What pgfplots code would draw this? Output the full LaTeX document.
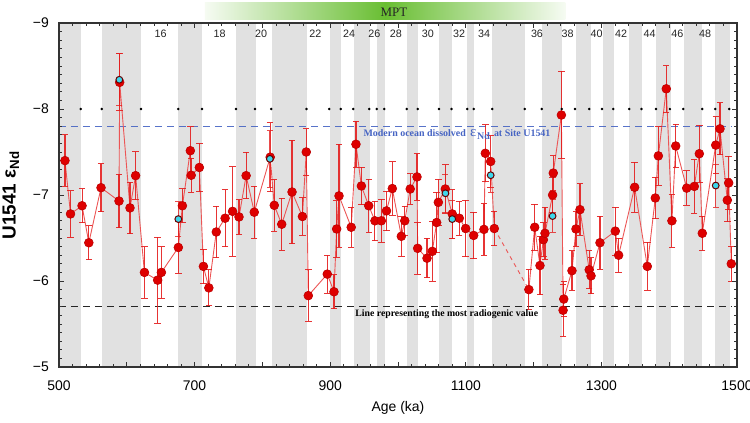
\documentclass[border=0pt]{standalone}
\usepackage{fontspec}
\setmainfont{Liberation Sans}
\newfontfamily\serifb{Liberation Serif}
\usepackage{pgfplots}
\pgfplotsset{compat=1.18}
\usepackage{pgfplotstable}
\definecolor{bandgray}{RGB}{225,225,225}
\definecolor{ptred}{RGB}{222,0,0}
\definecolor{linered}{RGB}{236,85,85}
\definecolor{errred}{RGB}{228,30,30}
\definecolor{cyanpt}{RGB}{60,215,235}
\definecolor{modblue}{RGB}{70,100,195}
\definecolor{mptgreen}{RGB}{105,190,50}
\newcommand{\band}[2]{\addplot[fill=bandgray,draw=none,forget plot] coordinates {(#1,-9) (#2,-9) (#2,-5) (#1,-5)} --cycle;}
\newcommand{\mis}[2]{\node[font=\fontsize{5.4}{6}\selectfont, text=black!85] at (axis cs:#1,-8.87) {#2};}

\pgfplotstableread{
x y e
508.8 -7.40 0.30
517 -6.78 0.27
534 -6.875 0.20
544 -6.445 0.20
562 -7.085 0.28
588.5 -6.93 0.31
589.5 -8.31 0.33
604.7 -6.85 0.30
613 -7.225 0.28
626 -6.10 0.30
645.5 -6.01 0.50
651 -6.10 0.30
676 -6.39 0.30
682 -6.875 0.20
693.7 -7.515 0.28
695 -7.23 0.20
707 -7.32 0.28
713 -6.17 0.20
721 -5.92 0.21
732 -6.57 0.30
745 -6.73 0.33
756 -6.81 0.52
765.5 -6.745 0.20
776 -7.225 0.27
788 -6.80 0.30
811.5 -7.44 0.40
817.5 -6.88 0.30
828.5 -6.66 0.30
843.7 -7.035 0.60
859 -6.75 0.22
864.7 -7.50 0.27
867.7 -5.83 0.30
895.7 -6.08 0.22
905.6 -5.875 0.20
909.5 -6.605 0.33
913 -6.99 0.60
931 -6.625 0.23
938 -7.59 0.27
946 -7.105 0.22
956.8 -6.875 0.31
966 -6.70 0.23
975.4 -6.70 0.25
983 -6.815 0.23
991.6 -7.075 0.31
1004.9 -6.52 0.23
1010 -6.70 0.17
1018 -7.07 0.18
1028 -7.21 0.27
1029 -6.38 0.30
1042.8 -6.265 0.23
1050.6 -6.345 0.35
1057 -6.68 0.35
1059.5 -6.915 0.27
1069.8 -7.07 0.28
1080 -6.78 0.28
1090.4 -6.73 0.20
1099.8 -6.61 0.33
1111.6 -6.53 0.27
1126.8 -6.60 0.30
1128.8 -7.485 0.33
1136.7 -7.39 0.30
1142 -6.61 0.20
}\dataA

\pgfplotstableread{
x y
1142 -6.61
1193 -5.90
}\dataGap

\pgfplotstableread{
x y e
1193 -5.90 0.23
1201.6 -6.625 0.27
1209.4 -6.18 0.34
1214.4 -6.48 0.20
1216.8 -6.555 0.30
1228 -7.00 0.20
1229 -7.255 0.20
1241 -7.93 0.51
1243.5 -5.66 0.30
1244.5 -5.79 0.20
1256.6 -6.12 0.23
1262.5 -6.605 0.20
1268.4 -6.83 0.30
1282 -6.13 0.22
1284.7 -6.06 0.21
1297.9 -6.445 0.31
1320.5 -6.58 0.28
1325.4 -6.30 0.20
1349 -7.09 0.29
1367.7 -6.17 0.28
1379.5 -6.965 0.24
1384 -7.455 0.34
1395.7 -8.235 0.27
1404 -6.70 0.31
1409.6 -7.57 0.25
1425.8 -7.08 0.20
1437 -7.10 0.31
1444.4 -7.48 0.33
1448.8 -6.555 0.20
1468.6 -7.58 0.33
1474.9 -7.77 0.30
1485.7 -6.94 0.25
1487.7 -7.14 0.31
1491.6 -6.20 0.20
}\dataB

\pgfplotstableread{
x y e
589 -8.34 0.30
676 -6.72 0.20
811 -7.42 0.33
1070 -7.02 0.22
1080 -6.72 0.22
1136.7 -7.23 0.20
1228 -6.755 0.19
1468.6 -7.11 0.25
}\dataC

\begin{document}
\begin{tikzpicture}
\begin{axis}[
  at={(0,0)}, anchor=south west,
  width=339bp, height=172bp, scale only axis,
  xmin=500, xmax=1500, ymin=-9, ymax=-5, y dir=reverse,
  clip=false, axis on top,
  xtick={500,600,...,1500},
  xticklabels={500,,700,,900,,1100,,1300,,1500},
  minor x tick num=4,
  ytick={-9,-8,-7,-6,-5},
  yticklabels={−9,−8,−7,−6,−5},
  minor y tick num=9,
  major tick length=2.5bp, minor tick length=1.5bp,
  tick style={black!80, line width=0.4bp},
  axis line style={black!80, line width=0.6bp},
  /pgf/number format/assume math mode=true,
  ticklabel style={font=\fontsize{7}{8}\selectfont},
  xticklabel style={yshift=-3.5bp},
  yticklabel style={xshift=-1.6bp},
  xlabel={Age (ka)},
  xlabel style={font=\fontsize{7}{8}\selectfont, at={(axis description cs:0.5,-0.119)}, anchor=center},
  ylabel={\bfseries U1541 ε\textsubscript{Nd}},
  ylabel style={font=\fontsize{9.5}{11}\selectfont, at={(axis description cs:-0.0708,0.5)}, anchor=center},
]
\band{500}{532}
\band{564}{621}
\band{676}{711}
\band{761}{790}
\band{814}{866}
\band{899}{916}
\band{935}{959}
\band{969}{981}
\band{1013}{1030}
\band{1061}{1080}
\band{1102}{1112}
\band{1139}{1188}
\band{1213}{1242}
\band{1262}{1284}
\band{1302}{1319}
\band{1341}{1360}
\band{1381}{1402}
\band{1422}{1449}
\band{1468}{1490}

\addplot[modblue, opacity=0.9, dash pattern=on 3.5bp off 2.5bp, line width=0.5bp] coordinates {(500,-7.8) (1492,-7.8)};
\addplot[black!85, dash pattern=on 3.5bp off 2.5bp, line width=0.5bp] coordinates {(500,-5.7) (1492,-5.7)};

\addplot[only marks, mark=*, mark size=0.4bp, black] coordinates {
(532,-8) (563,-8) (621,-8) (676,-8) (711,-8) (761,-8) (789,-8) (813,-8)
(865,-8) (898.5,-8) (915.5,-8) (934,-8) (957.6,-8) (968.5,-8) (979.8,-8)
(1012.8,-8) (1029,-8) (1060.5,-8) (1079,-8) (1102,-8) (1111.6,-8) (1139,-8)
(1187,-8) (1212,-8) (1241.4,-8) (1261,-8) (1282,-8) (1301,-8) (1317.6,-8)
(1341,-8) (1359,-8) (1380.5,-8) (1401,-8) (1420.8,-8) (1448.8,-8) (1468,-8) (1488.6,-8)};

\addplot[linered, line width=0.45bp, dash pattern=on 2bp off 2bp] table[x=x,y=y] {\dataGap};

\addplot[linered, line width=0.45bp, mark=*, mark size=2.2bp,
  mark options={solid, fill=ptred, draw=ptred!85!black, line width=0.3bp},
  error bars/.cd, y dir=both, y explicit,
  error bar style={errred, line width=0.55bp, opacity=0.9},
  error mark options={errred, line width=0.5bp, mark size=1.6bp, rotate=90}]
  table[x=x,y=y,y error=e] {\dataA};
\addplot[linered, line width=0.45bp, mark=*, mark size=2.2bp,
  mark options={solid, fill=ptred, draw=ptred!85!black, line width=0.3bp},
  error bars/.cd, y dir=both, y explicit,
  error bar style={errred, line width=0.55bp, opacity=0.9},
  error mark options={errred, line width=0.5bp, mark size=1.6bp, rotate=90}]
  table[x=x,y=y,y error=e] {\dataB};
\addplot[only marks, mark=*, mark size=1.7bp,
  mark options={fill=cyanpt, draw=black!60!red, line width=0.5bp},
  error bars/.cd, y dir=both, y explicit,
  error bar style={errred, line width=0.5bp, opacity=0.8},
  error mark options={errred, line width=0.5bp, mark size=1.5bp, rotate=90}]
  table[x=x,y=y,y error=e] {\dataC};

\node[font=\serifb\bfseries\fontsize{5.0}{6}\selectfont, text=modblue, inner sep=0pt] at (axis cs:1087,-7.705) {Modern ocean dissolved\, {\mdseries\fontsize{7.5}{8}\selectfont ε}\kern0.4bp\raisebox{-1.3bp}{Nd}\, at Site U1541};
\node[font=\serifb\bfseries\fontsize{4.9}{6}\selectfont, text=black, inner sep=0pt] at (axis cs:1072,-5.615) {Line representing the most radiogenic value};

\shade[left color=mptgreen!6, right color=mptgreen!6, middle color=mptgreen] (axis cs:715,-9.035) rectangle (axis cs:1247,-9.244);
\node[font=\serifb\fontsize{6.5}{7}\selectfont, text=black!85] at (axis cs:994,-9.13) {MPT};

\mis{650}{16}
\mis{737}{18}
\mis{798}{20}
\mis{878}{22}
\mis{928}{24}
\mis{965}{26}
\mis{997}{28}
\mis{1044}{30}
\mis{1090}{32}
\mis{1127}{34}
\mis{1205}{36}
\mis{1250}{38}
\mis{1293}{40}
\mis{1329}{42}
\mis{1371}{44}
\mis{1412}{46}
\mis{1453}{48}
\end{axis}
\pgfresetboundingbox
\path[use as bounding box] (-29.5bp,-28bp) rectangle (345.5bp,183.5bp);
\end{tikzpicture}
\end{document}
